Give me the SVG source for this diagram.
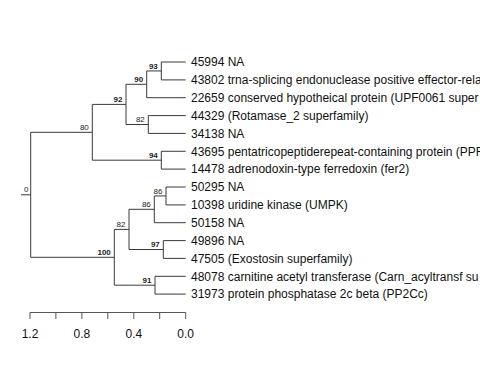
<svg xmlns="http://www.w3.org/2000/svg" width="480" height="384" viewBox="0 0 480 384">
<style>
.br{fill:none;stroke:#3a3a3a;stroke-width:1}
.ax{fill:none;stroke:#555;stroke-width:1}
.lf{font-family:"Liberation Sans",Arial,sans-serif;font-size:12px;fill:#111}
.bs{font-family:"Liberation Sans",Arial,sans-serif;font-size:8px;fill:#222;text-anchor:end}
.bb{font-weight:bold}
.at{font-family:"Liberation Sans",Arial,sans-serif;font-size:12px;fill:#111;text-anchor:middle}
</style>
<rect width="480" height="384" fill="#fff"/>
<g id="connectors">
<path class="br" d="M21 194.8 H30.7"/>
<path class="br" d="M92.3 132.3 H30.7 V257.3 H114.3"/>
<path class="br" d="M126 104.4 H92.3 V160.2 H161.3"/>
<path class="br" d="M146.7 84.3 H126 V124.5 H148.3"/>
<path class="br" d="M161.3 70.95 H146.7 V97.7 H185.7"/>
<path class="br" d="M185.7 62 H161.3 V79.9 H185.7"/>
<path class="br" d="M185.7 115.6 H148.3 V133.4 H185.7"/>
<path class="br" d="M185.7 151.3 H161.3 V169.1 H185.7"/>
<path class="br" d="M129 229.4 H114.3 V285.2 H155"/>
<path class="br" d="M154.3 209.3 H129 V249.5 H163.3"/>
<path class="br" d="M166 195.95 H154.3 V222.7 H185.7"/>
<path class="br" d="M185.7 187 H166 V204.9 H185.7"/>
<path class="br" d="M185.7 240.6 H163.3 V258.4 H185.7"/>
<path class="br" d="M185.7 276.3 H155 V294.1 H185.7"/>
</g>
<g id="bootstrap">
<text class="bs" x="28.5" y="191.5">0</text>
<text class="bs" x="88.8" y="129.8">80</text>
<text class="bs bb" x="122.5" y="101.9">92</text>
<text class="bs bb" x="143.2" y="81.8">90</text>
<text class="bs bb" x="157.8" y="68.5">93</text>
<text class="bs" x="144.8" y="122">82</text>
<text class="bs bb" x="157.8" y="157.7">94</text>
<text class="bs bb" x="110.8" y="254.8">100</text>
<text class="bs" x="125.5" y="226.9">82</text>
<text class="bs" x="150.8" y="206.8">86</text>
<text class="bs" x="162.5" y="193.5">86</text>
<text class="bs bb" x="159.8" y="247">97</text>
<text class="bs bb" x="151.5" y="282.7">91</text>
</g>
<g id="leaves">
<text id="n45994" class="lf" x="191" y="66.3">45994 NA</text>
<text id="n43802" class="lf" x="191" y="84.2">43802 trna-splicing endonuclease positive effector-rela</text>
<text id="n22659" class="lf" x="191" y="102">22659 conserved hypotheical protein (UPF0061 super</text>
<text id="n44329" class="lf" x="191" y="119.9">44329 (Rotamase_2 superfamily)</text>
<text id="n34138" class="lf" x="191" y="137.7">34138 NA</text>
<text id="n43695" class="lf" x="191" y="155.6">43695 pentatricopeptiderepeat-containing protein (PPR</text>
<text id="n14478" class="lf" x="191" y="173.4">14478 adrenodoxin-type ferredoxin (fer2)</text>
<text id="n50295" class="lf" x="191" y="191.3">50295 NA</text>
<text id="n10398" class="lf" x="191" y="209.2">10398 uridine kinase (UMPK)</text>
<text id="n50158" class="lf" x="191" y="227">50158 NA</text>
<text id="n49896" class="lf" x="191" y="244.9">49896 NA</text>
<text id="n47505" class="lf" x="191" y="262.7">47505 (Exostosin superfamily)</text>
<text id="n48078" class="lf" x="191" y="280.6">48078 carnitine acetyl transferase (Carn_acyltransf su</text>
<text id="n31973" class="lf" x="191" y="298.4">31973 protein phosphatase 2c beta (PP2Cc)</text>
</g>
<g id="axis">
<path class="ax" d="M30 312.5 H185.7 M30 312.5 V319 M55.9 312.5 V319 M81.9 312.5 V319 M107.8 312.5 V319 M133.8 312.5 V319 M159.7 312.5 V319 M185.7 312.5 V319"/>
<text class="at" x="30" y="337.5">1.2</text>
<text class="at" x="81.9" y="337.5">0.8</text>
<text class="at" x="133.8" y="337.5">0.4</text>
<text class="at" x="185.7" y="337.5">0.0</text>
</g>
</svg>
